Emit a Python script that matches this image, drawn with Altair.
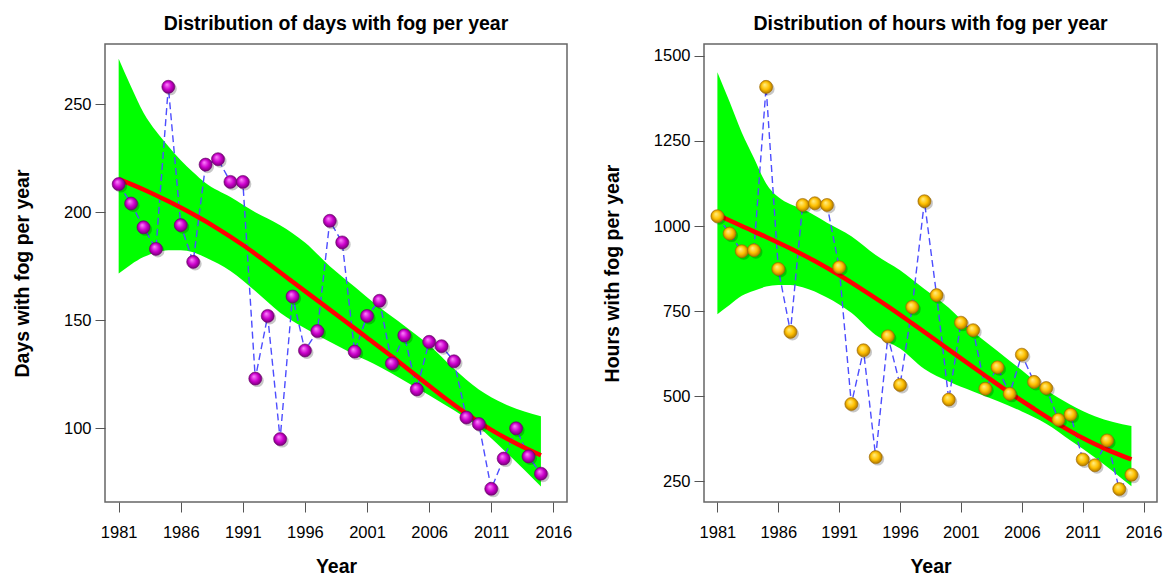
import altair as alt
import pandas as pd

# ---------------- data ----------------
years = list(range(1981, 2016))
days = [213, 204, 193, 183, 258, 194, 177, 222, 224.5, 214, 214, 123, 152, 95, 161,
        136, 145, 196, 186, 135.5, 152, 159, 130, 143, 118, 140, 138, 131, 105, 102,
        72, 86, 100, 87, 79]
hours = [1029, 978, 926, 929, 1409, 874, 689, 1062, 1067, 1062, 879, 477, 635, 321, 676,
         533, 762, 1073, 797, 490, 716, 694, 522, 585, 507, 622, 542, 524, 431, 446,
         314, 297, 370, 227, 269]

# smooth fit (red) and confidence band (green), read at knots
fit_days_year = [1981, 1983, 1985, 1987, 1989, 1991, 1993, 1995, 1997, 1999, 2001, 2003,
                 2005, 2007, 2009, 2011, 2013, 2015]
fit_days = [215.3, 210.5, 205.0, 199.0, 192.3, 184.8, 176.5, 167.8, 159.2, 150.6, 141.9,
            133.2, 124.2, 115.2, 106.8, 99.3, 93.0, 87.5]

band_days_year = [1981, 1982, 1983, 1984, 1985, 1986, 1987, 1988, 1990, 1992, 1994, 1996,
                  1998, 2000, 2002, 2004, 2006, 2008, 2010, 2012, 2015]
band_days_hi = [271, 258, 246, 237.5, 230.5, 224, 218.5, 213.5, 207, 200, 194, 186,
                175, 165.5, 156, 147.5, 138.5, 127.5, 118, 111.5, 105.6]
band_days_lo = [171.6, 175.8, 179.2, 181.3, 182.4, 182.4, 181.5, 179, 172.8, 163.5, 153.5,
                146.3, 140, 134, 128.5, 122, 115.3, 108.3, 100.5, 90, 73.1]

fit_hours_year = [1981, 1983, 1985, 1987, 1989, 1991, 1993, 1995, 1997, 1999, 2001, 2003,
                  2005, 2007, 2009, 2011, 2013, 2015]
fit_hours = [1033, 1000, 968, 934, 897, 856, 811, 764, 714, 663, 611, 560, 510, 463, 418,
             377, 343, 314]

band_hours_year = [1981, 1982, 1983, 1984, 1985, 1986, 1987, 1988, 1990, 1992, 1994, 1996,
                   1998, 2000, 2002, 2004, 2006, 2008, 2010, 2012, 2015]
band_hours_hi = [1452, 1365, 1275, 1200, 1125, 1085, 1064, 1050, 1010, 970, 915, 870,
                 815, 760, 690, 633, 576, 519, 475, 441, 412]
band_hours_lo = [741, 768, 795, 810, 822, 827, 827, 820, 790, 745, 680, 640,
                 580, 543, 514, 486, 455, 419, 370, 320, 235]

x_ticks = [1981, 1986, 1991, 1996, 2001, 2006, 2011, 2016]
days_ticks = [100, 150, 200, 250]
hours_ticks = [250, 500, 750, 1000, 1250, 1500]

FONT = "Liberation Sans, Arial, Helvetica, sans-serif"


def sphere(light, mid, dark):
    return alt.RadialGradient(
        gradient="radial", x1=0.38, y1=0.32, r1=0.0, x2=0.5, y2=0.5, r2=0.55,
        stops=[alt.GradientStop(offset=0, color=light),
               alt.GradientStop(offset=0.55, color=mid),
               alt.GradientStop(offset=1, color=dark)])


def panel(values, fit_x, fit_y, band_x, band_lo, band_hi, ydom, yticks, ytitle,
          title, colors, width):
    pts = pd.DataFrame({"Year": years, "v": values})
    fit = pd.DataFrame({"Year": fit_x, "v": fit_y})
    band = pd.DataFrame({"Year": band_x, "lo": band_lo, "hi": band_hi})

    xs = alt.Scale(domain=[1979.9, 2017.1], nice=False, zero=False)
    ys = alt.Scale(domain=ydom, nice=False, zero=False)
    xax = alt.Axis(values=x_ticks, format="d", title="Year", grid=False,
                   labelFontSize=16.5, titleFontSize=19.5, labelPadding=12,
                   titlePadding=17)
    yax = alt.Axis(values=yticks, format="d", title=ytitle, grid=False,
                   labelFontSize=16.5, titleFontSize=19.5, labelPadding=4,
                   titlePadding=31)

    x = alt.X("Year:Q", scale=xs, axis=xax)

    b = alt.Chart(band).mark_area(color="#00FF00", interpolate="monotone").encode(
        x=x, y=alt.Y("lo:Q", scale=ys, axis=yax), y2="hi:Q")
    dash = alt.Chart(pts).mark_line(color="#4D4DFF", strokeWidth=1.4,
                                    strokeDash=[7, 4]).encode(
        x=alt.X("Year:Q"), y=alt.Y("v:Q"))
    red = alt.Chart(fit).mark_line(color="#FF0000", strokeWidth=4.5,
                                   interpolate="monotone").encode(
        x=alt.X("Year:Q"), y=alt.Y("v:Q"))
    shadow = alt.Chart(pts).mark_circle(size=170, color="#000000", opacity=0.22,
                                        xOffset=2, yOffset=2).encode(
        x=alt.X("Year:Q"), y=alt.Y("v:Q"))
    dots = alt.Chart(pts).mark_circle(size=170, opacity=1, color=sphere(*colors),
                                      stroke=colors[2], strokeWidth=0.6).encode(
        x=alt.X("Year:Q"), y=alt.Y("v:Q"))

    return alt.layer(b, dash, red, shadow, dots).properties(
        width=width, height=458,
        title=alt.TitleParams(title, fontSize=19.5, fontWeight="bold", font=FONT,
                              color="#000000", offset=10, anchor="middle"))


left = panel(days, fit_days_year, fit_days, band_days_year, band_days_lo, band_days_hi,
             [65.9, 277.8], days_ticks, "Days with fog per year",
             "Distribution of days with fog per year",
             ("#FF88FF", "#CC00CC", "#6A006A"), 462)
right = panel(hours, fit_hours_year, fit_hours, band_hours_year, band_hours_lo,
              band_hours_hi, [189, 1535], hours_ticks, "Hours with fog per year",
              "Distribution of hours with fog per year",
              ("#FFF08A", "#FFC000", "#A06A00"), 453)

chart = alt.hconcat(left, right, spacing=28).properties(
    padding={"left": 11, "top": 12, "right": 4, "bottom": 0},
    background="white"
).configure_view(
    stroke="#666666", strokeWidth=1.5
).configure_axis(
    labelFont=FONT, titleFont=FONT,
    titleFontWeight="bold", labelColor="#000000", titleColor="#000000",
    domain=False, tickColor="#555555", tickSize=10, tickWidth=1,
)

chart.save("out.html", embed_options={"renderer": "svg", "actions": False})
